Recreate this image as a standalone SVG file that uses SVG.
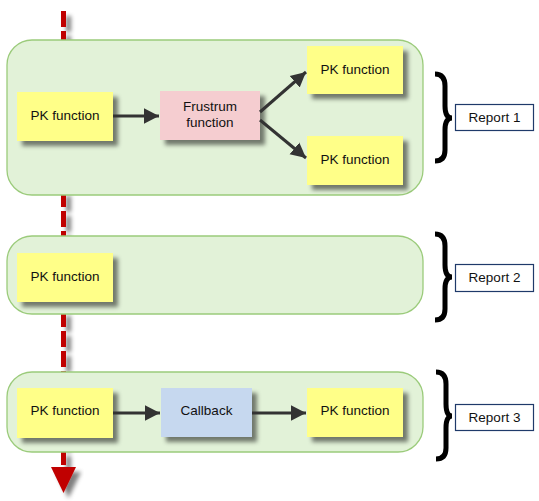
<svg xmlns="http://www.w3.org/2000/svg" width="539" height="501" viewBox="0 0 539 501">
<defs>
<style>
.grp{fill:#e2f2d8;stroke:#9bcb7b;stroke-width:1.3}
.node{filter:url(#sh)}
.pk{fill:#ffff88}
.fr{fill:#f5cdd0}
.cb{fill:#c6d8ef}
.t{font-family:"Liberation Sans",Arial,sans-serif;font-size:13.5px;fill:#111;text-anchor:middle}
.conn{stroke:#333;stroke-width:3;fill:none;marker-end:url(#ah)}
.brace{stroke:#000;stroke-width:5;fill:none;stroke-linecap:butt}
.rep{fill:#fff;stroke:#1f3a6a;stroke-width:1.2}
</style>
<filter id="sh" x="-20%" y="-20%" width="150%" height="150%">
<feGaussianBlur in="SourceAlpha" stdDeviation="2"/>
<feOffset dx="5" dy="5" result="b"/>
<feFlood flood-color="#000" flood-opacity="0.5"/>
<feComposite in2="b" operator="in"/>
<feMerge><feMergeNode/><feMergeNode in="SourceGraphic"/></feMerge>
</filter>
<marker id="ah" markerWidth="6" markerHeight="6" refX="5" refY="2.75" orient="auto" markerUnits="strokeWidth">
<path d="M0,0.2 L5,2.75 L0,5.3 Z" fill="#333"/>
</marker>
</defs>
<rect width="539" height="501" fill="#fff"/>
<g id="timeline" filter="url(#sh)">
<line x1="63.5" y1="11" x2="63.5" y2="465" stroke="#c00000" stroke-width="5" stroke-dasharray="16 4"/>
<path d="M51,467 L76,467 L63.5,493 Z" fill="#c00000"/>
</g>
<g id="group1"><rect class="grp" x="7" y="40" width="416" height="155" rx="25"/></g>
<g id="group2"><rect class="grp" x="7" y="236" width="416" height="78" rx="25"/></g>
<g id="group3"><rect class="grp" x="7" y="372" width="416" height="80" rx="25"/></g>
<g id="n1"><rect class="node pk" x="17" y="92" width="96" height="49"/><text class="t" x="65" y="120">PK function</text></g>
<g id="n2"><rect class="node fr" x="160" y="91" width="100" height="49"/><text class="t" x="210" y="111">Frustrum</text><text class="t" x="210" y="127">function</text></g>
<g id="n3"><rect class="node pk" x="307" y="46" width="96" height="48"/><text class="t" x="355" y="74">PK function</text></g>
<g id="n4"><rect class="node pk" x="307" y="136" width="96" height="49"/><text class="t" x="355" y="164">PK function</text></g>
<g id="n5"><rect class="node pk" x="17" y="253" width="96" height="49"/><text class="t" x="65" y="281">PK function</text></g>
<g id="n6"><rect class="node pk" x="17" y="388" width="96" height="50"/><text class="t" x="65" y="415">PK function</text></g>
<g id="n7"><rect class="node cb" x="161" y="388" width="91" height="49"/><text class="t" x="206.5" y="415">Callback</text></g>
<g id="n8"><rect class="node pk" x="307" y="388" width="96" height="49"/><text class="t" x="355" y="415">PK function</text></g>
<g id="connectors">
<line class="conn" x1="113" y1="116" x2="159" y2="116"/>
<line class="conn" x1="260" y1="112" x2="306" y2="72"/>
<line class="conn" x1="260" y1="120" x2="306" y2="158"/>
<line class="conn" x1="113" y1="413" x2="160" y2="413"/>
<line class="conn" x1="252" y1="413" x2="306" y2="413"/>
</g>
<g id="brace1"><path class="brace" d="M435,74 Q445,74 445,86 L445,106 Q445,118 452,118 Q445,118 445,130 L445,150 Q445,161 435,161"/></g>
<g id="brace2"><path class="brace" d="M435,234 Q445,234 445,246 L445,265 Q445,277 452,277 Q445,277 445,289 L445,309 Q445,320 435,320"/></g>
<g id="brace3"><path class="brace" d="M436,372 Q446,372 446,384 L446,404 Q446,416 452,416 Q446,416 446,428 L446,448 Q446,459 436,459"/></g>
<g id="r1"><rect class="rep" x="455.5" y="104.5" width="78" height="26"/><text class="t" x="494.5" y="122">Report 1</text></g>
<g id="r2"><rect class="rep" x="455.5" y="264.5" width="78" height="27"/><text class="t" x="494.5" y="282">Report 2</text></g>
<g id="r3"><rect class="rep" x="455.5" y="404.5" width="78" height="26"/><text class="t" x="494.5" y="422">Report 3</text></g>
</svg>
